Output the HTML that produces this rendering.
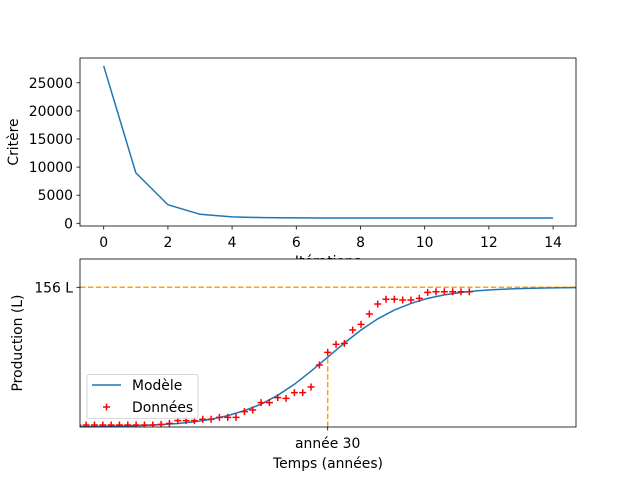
<!DOCTYPE html>
<html><head><meta charset="utf-8"><style>
body{margin:0;background:#fff;}
svg{display:block;font-family:"DejaVu Sans","Liberation Sans",sans-serif;}
</style></head><body>
<svg id="c" width="640" height="480" viewBox="0 0 640 480"></svg>
<script>
const iterations=[0,1,2,3,4,5,6,7,8,9,10,11,12,13,14];
const critere=[28000,9000,3300,1600,1150,1000,960,950,950,950,950,950,950,950,950];
const topXTicks=[0,2,4,6,8,10,12,14];
const topYTicks=[0,5000,10000,15000,20000,25000];
const years=[0,1,2,3,4,5,6,7,8,9,10,11,12,13,14,15,16,17,18,19,20,21,22,23,24,25,26,27,28,29,30,31,32,33,34,35,36,37,38,39,40,41,42,43,44,45,46,47];
const donnees=[2,2.2,2.2,2.2,2.2,2.2,2.2,2.2,2.2,2.2,3,4.1,7.1,7.1,7.1,8.6,8.6,10.8,10.8,10.8,17.1,19,27.2,27.2,32.8,32,38.4,38.4,44.7,69.2,83.4,92.3,93.4,108.3,114.6,126.2,137.4,142.6,142.6,141.8,141.8,143.7,150.4,151.1,151.1,151.1,151.1,151.1];
const modelT=[0,2,4,6,8,10,12,14,16,18,20,22,24,26,28,30,32,34,36,38,40,42,44,46,48,50,52,54,56,58,60];
const modelV=[0.37,0.55,0.81,1.2,1.78,2.65,3.93,5.8,8.6,12.7,18.3,25.5,35.4,47.7,62.3,78,93.8,108.3,120.7,130.6,138,143.6,147.5,150.2,152.1,153.4,154.2,154.8,155.2,155.5,155.7];
const markYear=[30];
const markValue=[156];

const svg=document.getElementById('c');
const NS='http://www.w3.org/2000/svg';
const FS='13.9px';
function mk(tag,attrs,parent){const e=document.createElementNS(NS,tag);for(const k in attrs)e.setAttribute(k,attrs[k]);(parent||svg).appendChild(e);return e;}

// top axes
const T={l:80,r:576,t:58,b:226};
const tx=v=>103.7+v*32.1;
const ty=v=>223.3-v*0.00562;
const gTop=mk('g',{});


let pts=iterations.map((v,i)=>tx(v)+','+ty(critere[i])).join(' ');
const l1=mk('polyline',{points:pts,fill:'none',stroke:'#1f77b4','stroke-width':1.5},gTop);


topXTicks.forEach(v=>{const x=tx(v);mk('line',{x1:x,x2:x,y1:T.b,y2:T.b+3.5,stroke:'#000','stroke-width':0.8},gTop);
 const t=mk('text',{x:x,y:T.b+21,'text-anchor':'middle','font-size':FS},gTop);t.textContent=v;
 });
topYTicks.forEach(v=>{const y=ty(v);mk('line',{x1:T.l,x2:T.l-3.5,y1:y,y2:y,stroke:'#000','stroke-width':0.8},gTop);
 const t=mk('text',{x:T.l-7,y:y+5,'text-anchor':'end','font-size':FS},gTop);t.textContent=v;
 });
mk('rect',{x:T.l,y:T.t,width:T.r-T.l,height:T.b-T.t,fill:'none',stroke:'#000','stroke-width':0.8},gTop);
const yl1=mk('text',{x:0,y:0,'font-size':FS,'text-anchor':'middle',transform:'translate(18,142) rotate(-90)'},gTop);yl1.textContent='Critère';

const xl1=mk('text',{x:328,y:266,'font-size':FS,'text-anchor':'middle'},gTop);xl1.textContent='Itérations';


// bottom axes
const B={l:80,r:576,t:259,b:427};
const bx=v=>327.7+(v-30)*8.33;
const by=v=>427-v*0.8955;
const gB=mk('g',{});


mk('rect',{x:B.l,y:B.t,width:B.r-B.l,height:B.b-B.t,fill:'#fff'},gB);
mk('clipPath',{id:'cp'},gB).appendChild((()=>{const r=document.createElementNS(NS,'rect');r.setAttribute('x',B.l);r.setAttribute('y',B.t);r.setAttribute('width',B.r-B.l);r.setAttribute('height',B.b-B.t);return r;})());
const inner=mk('g',{'clip-path':'url(#cp)'},gB);
const h=mk('line',{x1:B.l,x2:B.r,y1:by(markValue[0]),y2:by(markValue[0]),stroke:'#ffa500','stroke-width':1.5,'stroke-dasharray':'5.5,2.4'},inner);

const vl=mk('line',{x1:bx(markYear[0]),x2:bx(markYear[0]),y1:B.b,y2:by(markValue[0]/2),stroke:'#ffa500','stroke-width':1.5,'stroke-dasharray':'5.5,2.4'},inner);

pts=modelT.map((v,i)=>bx(v)+','+by(modelV[i])).join(' ');
const ml=mk('polyline',{points:pts,fill:'none',stroke:'#1f77b4','stroke-width':1.5},inner);

years.forEach((v,i)=>{const x=bx(v),y=by(donnees[i]);
 const p=mk('path',{d:`M${x-3.5},${y}H${x+3.5}M${x},${y-3.5}V${y+3.5}`,stroke:'#ff0000','stroke-width':1.5},inner);
 });
mk('rect',{x:B.l,y:B.t,width:B.r-B.l,height:B.b-B.t,fill:'none',stroke:'#000','stroke-width':0.8},gB);
mk('line',{x1:bx(30),x2:bx(30),y1:B.b,y2:B.b+3.5,stroke:'#000','stroke-width':0.8},gB);
const xt=mk('text',{x:bx(30),y:448,'font-size':FS,'text-anchor':'middle'},gB);xt.textContent='année 30';

mk('line',{x1:B.l,x2:B.l-3.5,y1:by(156),y2:by(156),stroke:'#000','stroke-width':0.8},gB);
const yt=mk('text',{x:B.l-7,y:by(156)+5,'font-size':FS,'text-anchor':'end'},gB);yt.textContent='156 L';

const xl2=mk('text',{x:328,y:468,'font-size':FS,'text-anchor':'middle'},gB);xl2.textContent='Temps (années)';

const yl2=mk('text',{x:0,y:0,'font-size':FS,'text-anchor':'middle',transform:'translate(22,343) rotate(-90)'},gB);yl2.textContent='Production (L)';

// legend
const lg=mk('g',{},gB);

mk('rect',{x:87,y:374.5,width:111,height:44,rx:2,fill:'#fff','fill-opacity':0.8,stroke:'#ccc','stroke-width':0.8},lg);
mk('line',{x1:92,x2:121,y1:385,y2:385,stroke:'#1f77b4','stroke-width':1.5},lg);
const t1=mk('text',{x:132,y:390,'font-size':FS},lg);t1.textContent='Modèle';

mk('path',{d:'M103,407H110M106.5,403.5V410.5',stroke:'#ff0000','stroke-width':1.5},lg);
const t2=mk('text',{x:132,y:412,'font-size':FS},lg);t2.textContent='Données';

</script>
</body></html>
